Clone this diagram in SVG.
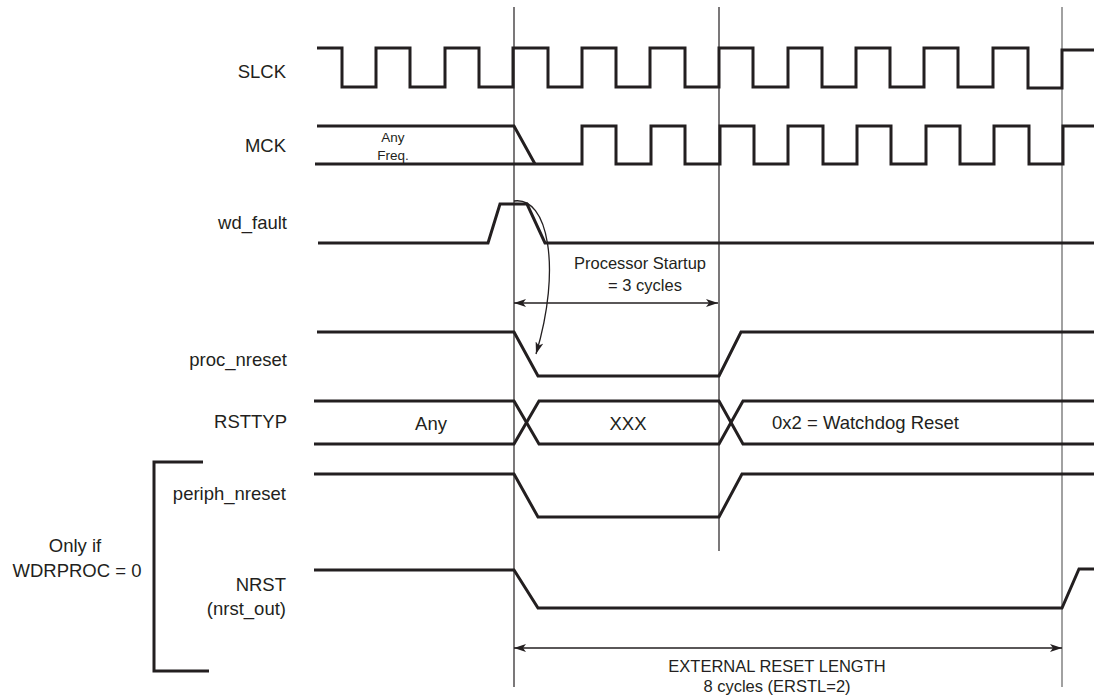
<svg xmlns="http://www.w3.org/2000/svg" width="1094" height="700" viewBox="0 0 1094 700">
<defs>
<style>
.w{fill:none;stroke:#231f20;stroke-width:3;stroke-linejoin:miter}
.g{fill:none;stroke:#231f20;stroke-width:1.2}
.gg{fill:none;stroke:#8a8a8a;stroke-width:1.6}
.a{fill:none;stroke:#231f20;stroke-width:1.3}
.t{font-family:"Liberation Sans",Arial,Helvetica,sans-serif;font-size:18.5px;fill:#231f20}
.s{font-family:"Liberation Sans",Arial,Helvetica,sans-serif;font-size:16.5px;fill:#231f20}
.xs{font-family:"Liberation Sans",Arial,Helvetica,sans-serif;font-size:13.5px;fill:#231f20}
.r{text-anchor:end}
.m{text-anchor:middle}
</style>
<marker id="ah" viewBox="0 0 12 8" refX="12" refY="4" markerWidth="12" markerHeight="8" markerUnits="userSpaceOnUse" orient="auto-start-reverse">
<path d="M0,0 L12,4 L0,8 L3,4 Z" fill="#231f20"/>
</marker>
</defs>
<g id="guides">
<line class="g" x1="514" y1="7" x2="514" y2="687"/>
<line class="g" x1="719" y1="7" x2="719" y2="551"/>
<line class="gg" x1="1062" y1="7" x2="1062" y2="687"/>
</g>
<g id="slck">
<text class="t r" x="286" y="78">SLCK</text>
<path class="w" d="M317,48 H342 V87 H376 V48 H410 V87 H445 V48 H479 V87 H513 V48 H548 V87 H582 V48 H616 V87 H650 V48 H685 V87 H719 V48 H753 V87 H788 V48 H822 V87 H856 V48 H890 V87 H924 V48 H958 V87 H993 V48 H1028 V88 H1062 V50 H1094"/>
</g>
<g id="mck">
<text class="t r" x="286" y="152">MCK</text>
<text class="xs m" x="393" y="142">Any</text>
<text class="xs m" x="393" y="160">Freq.</text>
<path class="w" d="M317,126 H514 L535,164"/>
<path class="w" d="M315,164 H582 V126 H616 V164 H651 V126 H685 V164 H720 V126 H754 V164 H788 V126 H823 V164 H857 V126 H891 V164 H926 V126 H960 V164 H994 V126 H1029 V164 H1063 V126 H1094"/>
</g>
<g id="wd_fault">
<text class="t r" x="287" y="229">wd_fault</text>
<path class="w" d="M318,243 H488 L500,204 H527 L545,243 H1094"/>
</g>
<g id="proc_nreset">
<text class="t r" x="287" y="366">proc_nreset</text>
<path class="w" d="M317,332 H514 L538,376 H719 L741,332 H1094"/>
</g>
<g id="rsttyp">
<text class="t r" x="287" y="428">RSTTYP</text>
<path class="w" d="M314,401 H514 L539,444 H719 L743,401 H1094"/>
<path class="w" d="M314,444 H514 L539,401 H719 L743,444 H1094"/>
<text class="t m" x="431" y="430">Any</text>
<text class="t m" x="628" y="430">XXX</text>
<text class="t" x="772" y="429">0x2 = Watchdog Reset</text>
</g>
<g id="periph_nreset">
<text class="t r" x="286" y="500">periph_nreset</text>
<path class="w" d="M314,474 H514 L538,517 H719 L742,474 H1094"/>
</g>
<g id="nrst">
<text class="t r" x="286" y="591">NRST</text>
<text class="t r" x="286" y="615">(nrst_out)</text>
<path class="w" d="M314,570 H514 L538,608 H1062 L1079,569 H1094"/>
</g>
<g id="condition">
<path class="w" d="M203,462 H154 V671 H209"/>
<text class="t m" x="75" y="552">Only if</text>
<text class="t m" x="77" y="577">WDRPROC = 0</text>
</g>
<g id="connectors">
<path class="a" d="M514,201 C548,196 562,268 536,354" marker-end="url(#ah)"/>
<line class="a" x1="514" y1="303" x2="718" y2="303" marker-start="url(#ah)" marker-end="url(#ah)"/>
<line class="a" x1="514" y1="648" x2="1062" y2="648" marker-start="url(#ah)" marker-end="url(#ah)"/>
</g>
<g id="labels">
<text class="s m" x="640" y="269">Processor Startup</text>
<text class="s m" x="645" y="291">= 3 cycles</text>
<text class="s m" x="777" y="672">EXTERNAL RESET LENGTH</text>
<text class="s m" x="777" y="692">8 cycles (ERSTL=2)</text>
</g>
</svg>
